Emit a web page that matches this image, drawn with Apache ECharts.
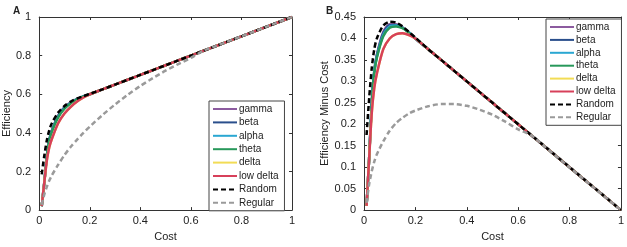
<!DOCTYPE html>
<html>
<head>
<meta charset="utf-8">
<script src="https://cdn.jsdelivr.net/npm/echarts@6/dist/echarts.min.js"></script>
<style>
  html, body { margin: 0; padding: 0; background: #fff; }
  #chart { width: 627px; height: 247px; }
</style>
</head>
<body>
<div id="chart"></div>
<script>
// cost grid shared by every curve
var cost = [0.01, 0.02, 0.03, 0.04, 0.05, 0.075, 0.1, 0.125, 0.15, 0.175,
            0.2, 0.25, 0.3, 0.35, 0.4, 0.45, 0.5, 0.55, 0.6, 0.65, 0.7, 0.8, 0.9, 1.0];

// efficiency minus cost
var gamma    = [0.01, 0.12, 0.25, 0.325, 0.362, 0.415, 0.433, 0.433, 0.426, 0.414,
                0.4, 0.375, 0.35, 0.325, 0.3, 0.275, 0.25, 0.225, 0.2, 0.175, 0.15, 0.1, 0.05, 0];
var beta     = [0.01, 0.12, 0.248, 0.323, 0.36, 0.412, 0.431, 0.431, 0.425, 0.414,
                0.4, 0.375, 0.35, 0.325, 0.3, 0.275, 0.25, 0.225, 0.2, 0.175, 0.15, 0.1, 0.05, 0];
var alpha    = [0.01, 0.12, 0.246, 0.321, 0.357, 0.408, 0.428, 0.43, 0.425, 0.414,
                0.4, 0.375, 0.35, 0.325, 0.3, 0.275, 0.25, 0.225, 0.2, 0.175, 0.15, 0.1, 0.05, 0];
var theta    = [0.01, 0.12, 0.245, 0.32, 0.355, 0.405, 0.425, 0.428, 0.424, 0.413,
                0.4, 0.375, 0.35, 0.325, 0.3, 0.275, 0.25, 0.225, 0.2, 0.175, 0.15, 0.1, 0.05, 0];
var delta    = [0.01, 0.12, 0.225, 0.285, 0.318, 0.375, 0.4, 0.41, 0.412, 0.408,
                0.4, 0.375, 0.35, 0.325, 0.3, 0.275, 0.25, 0.225, 0.2, 0.175, 0.15, 0.1, 0.05, 0];
var lowDelta = [0.01, 0.12, 0.225, 0.285, 0.318, 0.375, 0.4, 0.41, 0.412, 0.408,
                0.4, 0.375, 0.35, 0.325, 0.3, 0.275, 0.25, 0.225, 0.2, 0.175, 0.15, 0.1, 0.05, 0];
var random   = [0.175, 0.26, 0.33, 0.375, 0.4, 0.43, 0.439, 0.437, 0.428, 0.415,
                0.402, 0.375, 0.35, 0.325, 0.3, 0.275, 0.25, 0.225, 0.2, 0.175, 0.15, 0.1, 0.05, 0];
var regular  = [0.017, 0.06, 0.09, 0.113, 0.13, 0.16, 0.185, 0.203, 0.215, 0.225,
                0.232, 0.242, 0.247, 0.247, 0.243, 0.234, 0.222, 0.206, 0.188, 0.175, 0.15, 0.1, 0.05, 0];

var names  = ['gamma', 'beta', 'alpha', 'theta', 'delta', 'low delta', 'Random', 'Regular'];
var values = [gamma, beta, alpha, theta, delta, lowDelta, random, regular];
var colors = ['#8c5b9f', '#2a4f8c', '#2aa7d2', '#27985a', '#f2dc55', '#d7405a', '#000000', '#9a9a9a'];

var chart = echarts.init(document.getElementById('chart'));

var font = 'Liberation Sans, Arial, sans-serif';
var lineColor = '#333';

function axisBase(extra) {
  var a = {
    type: 'value',
    axisLine: { show: true, onZero: false, lineStyle: { color: lineColor, width: 1 } },
    axisTick: { show: true, inside: true, length: 3, lineStyle: { color: lineColor } },
    splitLine: { show: false },
    axisLabel: { color: '#222', fontSize: 11, fontFamily: font },
    nameTextStyle: { color: '#222', fontSize: 11, fontFamily: font }
  };
  for (var k in extra) a[k] = extra[k];
  return a;
}

var xAxes = [], yAxes = [];
[0, 1].forEach(function (g) {
  xAxes.push(axisBase({ gridIndex: g, position: 'bottom', min: 0, max: 1, interval: 0.2,
    name: 'Cost', nameLocation: 'middle', nameGap: 17, axisLabel: { color: '#222', fontSize: 11, fontFamily: font, margin: 5 } }));
  xAxes.push(axisBase({ gridIndex: g, position: 'top', min: 0, max: 1, interval: 0.2,
    axisLabel: { show: false } }));
});
yAxes.push(axisBase({ gridIndex: 0, position: 'left', min: 0, max: 1, interval: 0.2,
  name: 'Efficiency', nameLocation: 'middle', nameGap: 22 }));
yAxes.push(axisBase({ gridIndex: 0, position: 'right', min: 0, max: 1, interval: 0.2,
  axisLabel: { show: false } }));
yAxes.push(axisBase({ gridIndex: 1, position: 'left', min: 0, max: 0.45, interval: 0.05,
  name: 'Efficiency Minus Cost', nameLocation: 'middle', nameGap: 28 }));
yAxes.push(axisBase({ gridIndex: 1, position: 'right', min: 0, max: 0.45, interval: 0.05,
  axisLabel: { show: false } }));

var series = [];
[0, 1].forEach(function (g) {
  names.forEach(function (n, i) {
    var dashed = i >= 6;
    series.push({
      name: n,
      type: 'line',
      xAxisIndex: g * 2,
      yAxisIndex: g * 2,
      symbol: 'none',
      smooth: 0.25,
      color: colors[i],
      lineStyle: { color: colors[i], width: 2.5, type: dashed ? [5, 3] : 'solid' },
      // panel A shows efficiency itself, i.e. the plotted difference plus cost
      data: cost.map(function (c, j) {
        return [c, g === 0 ? +(values[i][j] + c).toFixed(4) : values[i][j]];
      }),
      z: 2 + i
    });
  });
});

function legendAt(left, top, gap, width) {
  return {
    data: names,
    orient: 'vertical',
    left: left,
    top: top,
    width: width,
    itemWidth: 24,
    itemHeight: 10,
    itemGap: gap,
    padding: [3, 6, 3, 3],
    backgroundColor: '#fff',
    borderColor: '#444',
    borderWidth: 1,
    borderRadius: 0,
    selectedMode: false,
    itemStyle: { opacity: 0 },
    lineStyle: { width: 2 },
    textStyle: { color: '#222', fontSize: 10, fontFamily: font, padding: [0, 0, 0, -3] }
  };
}

chart.setOption({
  animation: false,
  grid: [
    { left: 31, right: 335, top: 17, height: 204 },
    { left: 364, right: 5, top: 17, height: 204 }
  ],
  title: [
    { text: 'A', left: 8, top: 1, textStyle: { fontSize: 10, fontWeight: 'bold', fontFamily: font, color: '#222' } },
    { text: 'B', left: 321, top: 1, textStyle: { fontSize: 10, fontWeight: 'bold', fontFamily: font, color: '#222' } }
  ],
  legend: [legendAt(209, 101, 3.4), legendAt(546, 19, 2.9)],
  xAxis: xAxes,
  yAxis: yAxes,
  series: series
});
</script>
</body>
</html>
